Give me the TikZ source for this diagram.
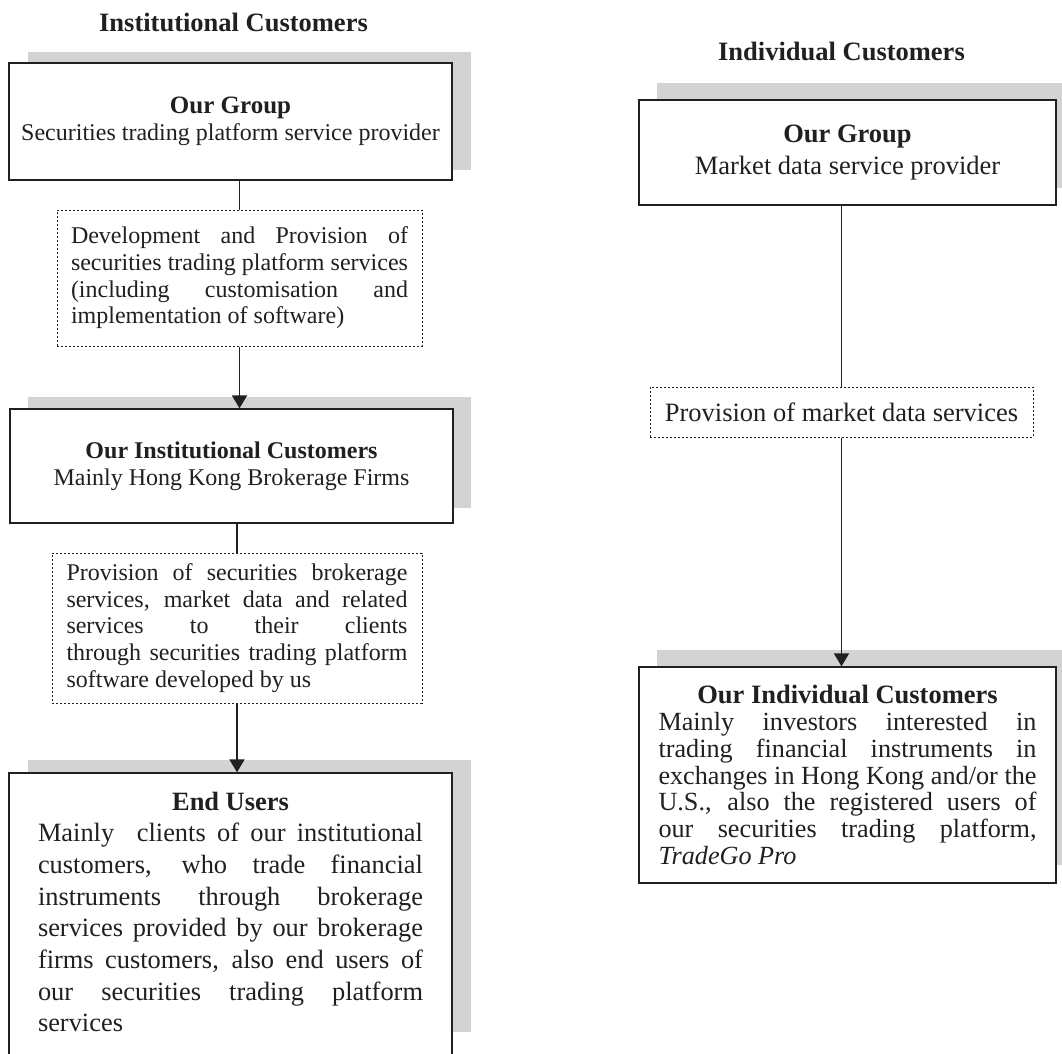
\documentclass[tikz,border=0pt]{standalone}
\usepackage{fontspec}
\setmainfont{Liberation Serif}
\usetikzlibrary{arrows.meta}
\definecolor{ink}{RGB}{35,31,32}
\definecolor{panelgray}{RGB}{209,211,212}
% one line of a justified paragraph, stretched to the given width
\newcommand\jrow[2]{\makebox[#1][s]{#2}}
% last line of a paragraph, set flush left
\newcommand\lrow[2]{\makebox[#1][l]{#2}}
% centred heading line
\newcommand\crow[2]{\makebox[#1][c]{\bfseries #2}}
\begin{document}
\begin{tikzpicture}[x=1pt,y=-1pt,
  box/.style={draw=ink, line width=1.3pt, fill=white, inner sep=0pt, text=ink, align=center},
  note/.style={draw=ink, line width=1pt, dash pattern=on 2.2pt off 1.8pt, fill=white, inner sep=0pt, text=ink, align=center},
  panel/.style={fill=panelgray},
  link/.style={draw=ink, line width=1.8pt},
  arrowlink/.style={link, -{Triangle[length=13pt,width=15pt]}},
  head/.style={font=\fontsize{26.5}{30}\selectfont\bfseries, text=ink, inner sep=0pt},
  leftfont/.style={font=\fontsize{24}{26.7}\selectfont},
  rightfont/.style={font=\fontsize{26.5}{26.7}\selectfont},
]
\useasboundingbox (0,0) rectangle (1062,1053);
\clip (0,0) rectangle (1062,1053);

% column headings
\node[head, anchor=base] (ltitle) at (233.5,31) {Institutional Customers};
\node[head, anchor=base] (rtitle) at (841.5,60) {Individual Customers};

% grey panels behind the solid boxes
\fill[panel] (28,52) rectangle (471,170);
\fill[panel] (28,397) rectangle (471,508);
\fill[panel] (28,760) rectangle (471,1032);
\fill[panel] (657,83) rectangle (1070,188);
\fill[panel] (657,650) rectangle (1070,865);

% institutional chain
\node[box, leftfont, minimum width=443pt, minimum height=117pt] (g1) at (230.5,121.5)
  {{\fontsize{25}{26.7}\selectfont\bfseries Our Group}\\Securities trading platform service provider};

\node[note, leftfont, minimum width=365pt, minimum height=136pt] (d1) at (239.5,278)
  {\jrow{337pt}{Development and Provision of}\\
   \jrow{337pt}{securities trading platform services}\\
   \jrow{337pt}{(including customisation and}\\
   \lrow{337pt}{implementation of software)}};

\node[box, leftfont, minimum width=443pt, minimum height=114pt] (c2) at (231.5,466)
  {\textbf{Our Institutional Customers}\\Mainly Hong Kong Brokerage Firms};

\node[note, leftfont, minimum width=370pt, minimum height=150pt] (d2) at (237,628)
  {\jrow{341pt}{Provision of securities brokerage}\\
   \jrow{341pt}{services, market data and related}\\
   \jrow{341pt}{services to their clients}\\
   \jrow{341pt}{through securities trading platform}\\
   \lrow{341pt}{software developed by us}};

\node[box, minimum width=443pt, minimum height=287pt] (eu) at (230.5,916.5) {};
\node[anchor=north, inner sep=0pt, text=ink, align=center,
      font=\fontsize{26.4}{31.7}\selectfont] (eutext) at (230.5,791.5)
  {\crow{385pt}{End Users}\\
   \jrow{385pt}{Mainly\ \ clients of our institutional}\\
   \jrow{385pt}{customers, who trade financial}\\
   \jrow{385pt}{instruments through brokerage}\\
   \jrow{385pt}{services provided by our brokerage}\\
   \jrow{385pt}{firms customers, also end users of}\\
   \jrow{385pt}{our securities trading platform}\\
   \lrow{385pt}{services}};

% individual chain
\node[box, font=\fontsize{26.5}{32}\selectfont, minimum width=417pt, minimum height=105pt] (r1) at (847.5,152.5)
  {\textbf{Our Group}\\Market data service provider};

\node[note, rightfont, minimum width=383pt, minimum height=50pt] (dr) at (841.5,412)
  {Provision of market data services};

\node[box, font=\fontsize{26.2}{26.7}\selectfont, minimum width=417pt, minimum height=216pt] (r2) at (847.5,775)
  {\crow{378pt}{\fontsize{26.5}{26.7}\selectfont Our Individual Customers}\\
   \jrow{378pt}{Mainly investors interested in}\\
   \jrow{378pt}{trading financial instruments in}\\
   \jrow{378pt}{exchanges in Hong Kong and/or the}\\
   \jrow{378pt}{U.S., also the registered users of}\\
   \jrow{378pt}{our securities trading platform,}\\
   \lrow{378pt}{\itshape TradeGo Pro}};

% connectors
\draw[link] (g1.south -| d1.north) -- (d1.north);
\draw[arrowlink] (d1.south) -- (d1.south |- c2.north);
\draw[link] (c2.south -| d2.north) -- (d2.north);
\draw[arrowlink] (d2.south) -- (d2.south |- eu.north);
\draw[link] (r1.south -| dr.north) -- (dr.north);
\draw[arrowlink] (dr.south) -- (dr.south |- r2.north);
\end{tikzpicture}
\end{document}
